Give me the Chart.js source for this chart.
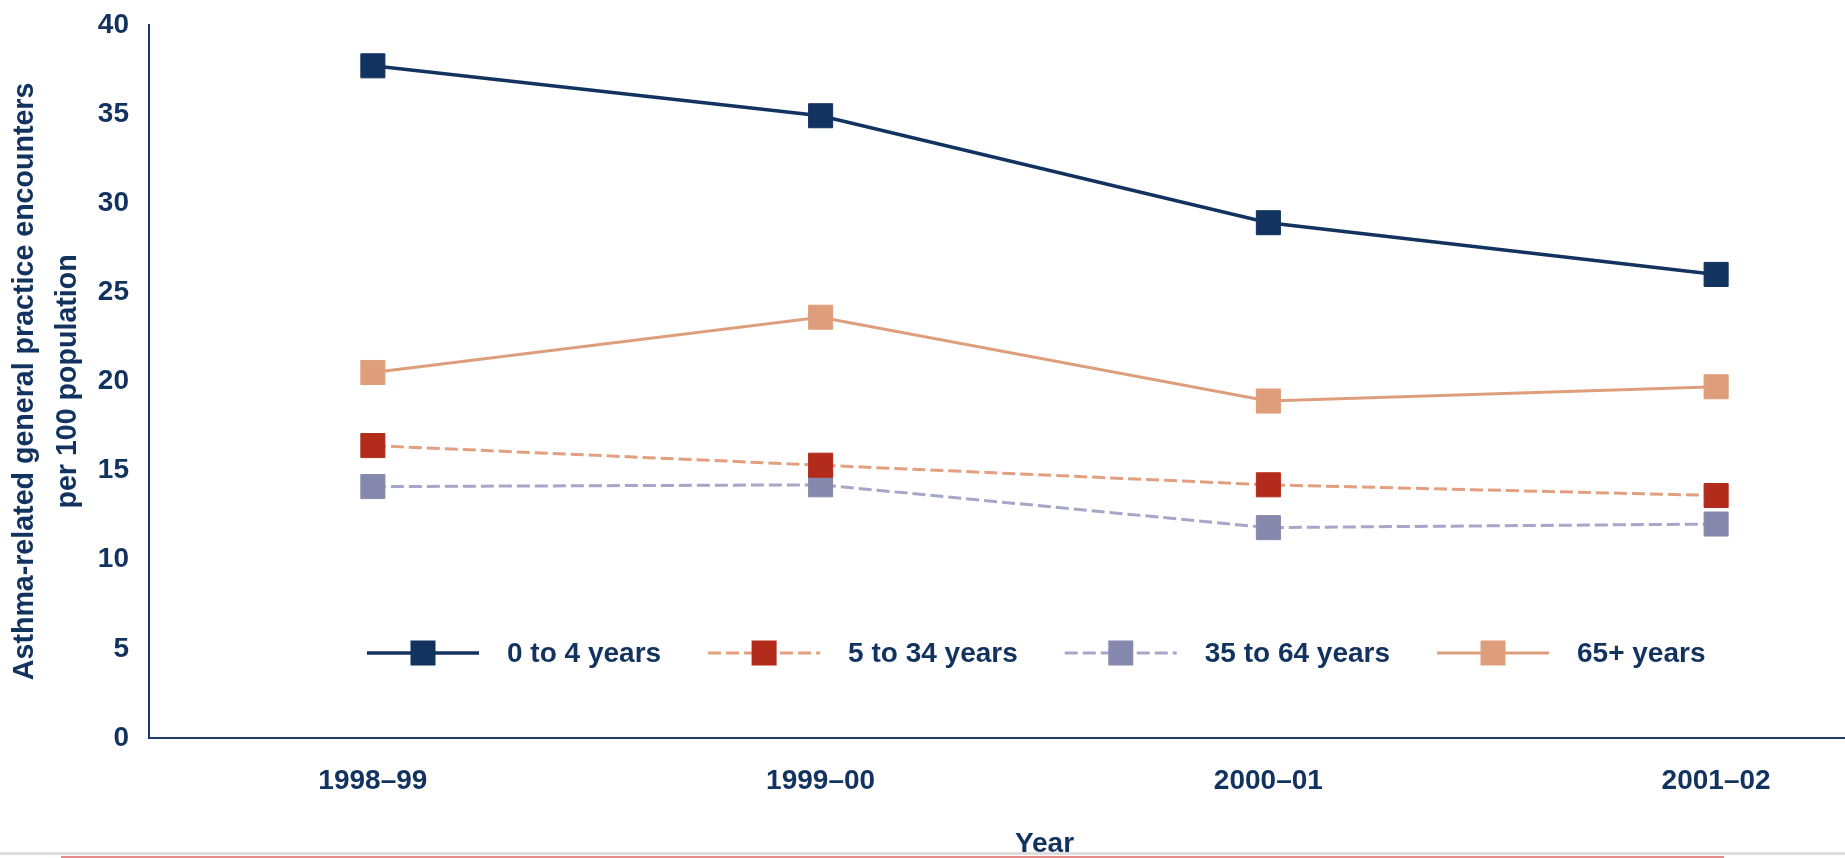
<!DOCTYPE html>
<html>
<head>
<meta charset="utf-8">
<script src="https://cdn.jsdelivr.net/npm/chart.js@4.4.1/dist/chart.umd.min.js"></script>
<style>
  html, body { margin: 0; padding: 0; background: #fff; overflow: hidden; width: 1845px; height: 858px; }
  #wrap { position: relative; width: 1845px; height: 858px; overflow: hidden; }
  #c { position: absolute; left: 0; top: -12px; }
  .rule-grey { position: absolute; left: 0; top: 852px; width: 1845px; height: 3px; background: #dedede; }
  .rule-red { position: absolute; left: 61px; top: 856px; width: 1663px; height: 2px; background: #e58a8a; }
</style>
</head>
<body>
<div id="wrap">
  <canvas id="c" width="1958" height="870"></canvas>
  <div class="rule-grey"></div>
  <div class="rule-red"></div>
</div>
<script>
// Financial years on the horizontal axis
const years = ['1998–99', '1999–00', '2000–01', '2001–02'];
// Age groups, in legend order
const ageGroups = ['0 to 4 years', '5 to 34 years', '35 to 64 years', '65+ years'];
// Encounters per 100 population, by age group
const age0to4 = [37.7, 34.9, 28.9, 26.0];
const age5to34 = [16.4, 15.3, 14.2, 13.6];
const age35to64 = [14.1, 14.2, 11.8, 12.0];
const age65plus = [20.5, 23.6, 18.9, 19.7];
// Axis titles
const yTitle = ['Asthma-related general practice encounters', 'per 100 population'];
const xTitle = 'Year';

const NAVY = '#12335f';
const FONT = "'Liberation Sans', Arial, sans-serif";

function series(label, data, line, marker, dash, width) {
  return {
    label, data,
    borderColor: line,
    borderWidth: width,
    borderDash: dash,
    pointStyle: 'rect',
    pointRadius: 17,
    pointHoverRadius: 17,
    pointBackgroundColor: marker,
    pointBorderColor: marker,
    pointBorderWidth: 1,
    tension: 0,
    fill: false
  };
}

// Legend laid out inside the plot, above the x axis
const innerLegend = {
  id: 'innerLegend',
  afterDatasetsDraw(chart) {
    const ctx = chart.ctx;
    const area = chart.chartArea;
    const y = area.bottom - 85;
    let x = area.left + 218;
    const swatch = 112, textGap = 28, itemGap = 47;
    ctx.save();
    ctx.font = 'bold 28px ' + FONT;
    ctx.textBaseline = 'middle';
    ctx.textAlign = 'left';
    chart.data.datasets.forEach(ds => {
      ctx.beginPath();
      ctx.setLineDash(ds.borderDash || []);
      ctx.strokeStyle = ds.borderColor;
      ctx.lineWidth = ds.borderWidth;
      ctx.moveTo(x, y);
      ctx.lineTo(x + swatch, y);
      ctx.stroke();
      ctx.setLineDash([]);
      ctx.fillStyle = ds.pointBackgroundColor;
      ctx.fillRect(x + swatch / 2 - 12.5, y - 12.5, 25, 25);
      ctx.fillStyle = NAVY;
      const tx = x + swatch + textGap;
      ctx.fillText(ds.label, tx, y + 1);
      x = tx + ctx.measureText(ds.label).width + itemGap;
    });
    ctx.restore();
  }
};

new Chart(document.getElementById('c'), {
  type: 'line',
  data: {
    labels: years,
    datasets: [
      series(ageGroups[0], age0to4, NAVY, NAVY, [], 3.5),
      series(ageGroups[1], age5to34, '#e2a080', '#b22b1b', [13, 5], 3),
      series(ageGroups[2], age35to64, '#a4a7c7', '#8689ad', [13, 5], 3),
      series(ageGroups[3], age65plus, '#df9e7b', '#df9e7b', [], 3)
    ]
  },
  options: {
    responsive: false,
    animation: false,
    events: [],
    layout: { padding: { top: 10, right: 0, bottom: 0, left: 0 } },
    plugins: { legend: { display: false }, tooltip: { enabled: false } },
    scales: {
      x: {
        offset: true,
        grid: { display: false, drawTicks: false },
        border: { display: true, color: '#1c3b6a', width: 2 },
        ticks: { color: NAVY, padding: 26, font: { family: FONT, size: 28, weight: 'bold' } },
        title: {
          display: true, text: xTitle, color: NAVY,
          font: { family: FONT, size: 28, weight: 'bold' },
          padding: { top: 0, bottom: -3 }
        },
        afterFit(scale) { scale.height = 120; }
      },
      y: {
        min: 0, max: 40,
        grid: { display: false, drawTicks: false },
        border: { display: true, color: '#1c3b6a', width: 2 },
        ticks: { stepSize: 5, color: NAVY, padding: 20, font: { family: FONT, size: 28, weight: 'bold' } },
        title: {
          display: true, text: yTitle, color: NAVY,
          font: { family: FONT, size: 28.6, weight: 'bold', lineHeight: 1.5 },
          padding: { top: 4, bottom: 4 }
        },
        afterFit(scale) { scale.width = 149; }
      }
    }
  },
  plugins: [innerLegend]
});
</script>
</body>
</html>
